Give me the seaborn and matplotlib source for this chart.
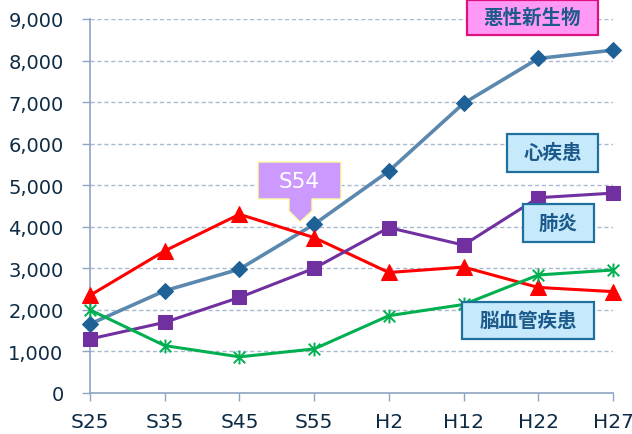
import pandas as pd
import matplotlib.pyplot as plt
import seaborn as sns
from matplotlib.patches import Rectangle, Polygon
from matplotlib.path import Path

periods = ["S25", "S35", "S45", "S55", "H2", "H12", "H22", "H27"]
cancer = [1660, 2460, 2980, 4060, 5340, 6970, 8050, 8250]
heart = [2350, 3420, 4300, 3740, 2900, 3030, 2540, 2440]
pneumonia = [1300, 1700, 2300, 3000, 3980, 3560, 4700, 4810]
stroke = [2000, 1140, 870, 1060, 1860, 2130, 2840, 2960]
y_ticks = [0, 1000, 2000, 3000, 4000, 5000, 6000, 7000, 8000, 9000]

sns.set_style("white")
plt.rcParams["font.family"] = ["DejaVu Sans", "Noto Sans CJK JP"]

W, H = 632, 435
fig = plt.figure(figsize=(W / 100, H / 100), dpi=100)
ax = fig.add_axes([90 / W, 1 - 394 / H, (613 - 90) / W, (394 - 20) / H])

axis_col = "#8ea4c4"
text_col = "#0d2b45"

for yv in y_ticks[1:]:
    ax.axhline(yv, color="#a9b9cf", lw=1, ls=(0, (3, 2)), zorder=0)

# excel style star: an X with a vertical bar through it
star = Path([(-1, -1), (1, 1), (-1, 1), (1, -1), (0, -1.2), (0, 1.2)],
            [Path.MOVETO, Path.LINETO, Path.MOVETO, Path.LINETO, Path.MOVETO, Path.LINETO])

series = [
    (cancer, dict(color="#5b88ae", marker="D", markersize=8,
                  markerfacecolor="#1d6196", markeredgecolor="#1d6196", linewidth=2.6)),
    (heart, dict(color="#ff0000", marker="^", markersize=11,
                 markerfacecolor="#ff0000", markeredgecolor="#ff0000", linewidth=2.2)),
    (pneumonia, dict(color="#7030a0", marker="s", markersize=10,
                     markerfacecolor="#7030a0", markeredgecolor="#7030a0", linewidth=2.2)),
    (stroke, dict(color="#00b050", marker=star, markersize=10,
                  markerfacecolor="none", markeredgecolor="#00b050",
                  markeredgewidth=1.4, linewidth=2.2)),
]
for vals, kw in series:
    df = pd.DataFrame({"period": periods, "deaths": vals})
    sns.lineplot(data=df, x="period", y="deaths", ax=ax, sort=False,
                 clip_on=False, zorder=3, **kw)

ax.set_xlim(0, len(periods) - 1)
ax.set_ylim(0, 9000)
ax.set_yticks(y_ticks)
ax.set_yticklabels([f"{v:,}" for v in y_ticks])
ax.set_xlabel("")
ax.set_ylabel("")
ax.tick_params(axis="both", colors=axis_col, labelcolor=text_col, labelsize=14,
               length=6, width=1, direction="out")
ax.tick_params(axis="y", pad=13)
ax.tick_params(axis="x", pad=8, labelsize=14.5)
ax.tick_params(left=True, bottom=True)
for s in ["top", "right"]:
    ax.spines[s].set_visible(False)
for s in ["left", "bottom"]:
    ax.spines[s].set_color(axis_col)
    ax.spines[s].set_linewidth(1.2)


def fx(x):
    return x / W


def fy(y):
    return 1 - y / H


def label_box(x0, y0, x1, y1, text, face, edge, size=14):
    fig.patches.append(Rectangle((fx(x0), fy(y1)), fx(x1) - fx(x0), fy(y0) - fy(y1),
                                 transform=fig.transFigure, facecolor=face,
                                 edgecolor=edge, linewidth=1.6, zorder=5))
    fig.text(fx((x0 + x1) / 2), fy((y0 + y1) / 2), text, ha="center", va="center",
             fontsize=size, fontweight="bold", color="#1b5a8a",
             family=["Noto Sans CJK JP", "DejaVu Sans"], zorder=6)


label_box(467, 1, 598, 36, "悪性新生物", "#ff99f5", "#e0107f")
label_box(507, 135, 598, 173, "心疾患", "#c6e9fb", "#1f6f9f")
label_box(523, 205, 594, 243, "肺炎", "#c6e9fb", "#1f6f9f")
label_box(462, 303, 594, 340, "脳血管疾患", "#c6e9fb", "#1f6f9f")

callout = [(258, 163), (341, 163), (341, 200), (312, 200), (312, 212),
           (300, 223), (289, 212), (289, 200), (258, 200)]
fig.patches.append(Polygon([(fx(x), fy(y)) for x, y in callout], closed=True,
                           transform=fig.transFigure, facecolor="#cc99ff",
                           edgecolor="#ffffa0", linewidth=1, zorder=5))
fig.text(fx(299.5), fy(181.5), "S54", ha="center", va="center", fontsize=15.5,
         color="white", zorder=6)

fig.savefig("out.png", dpi=100)
